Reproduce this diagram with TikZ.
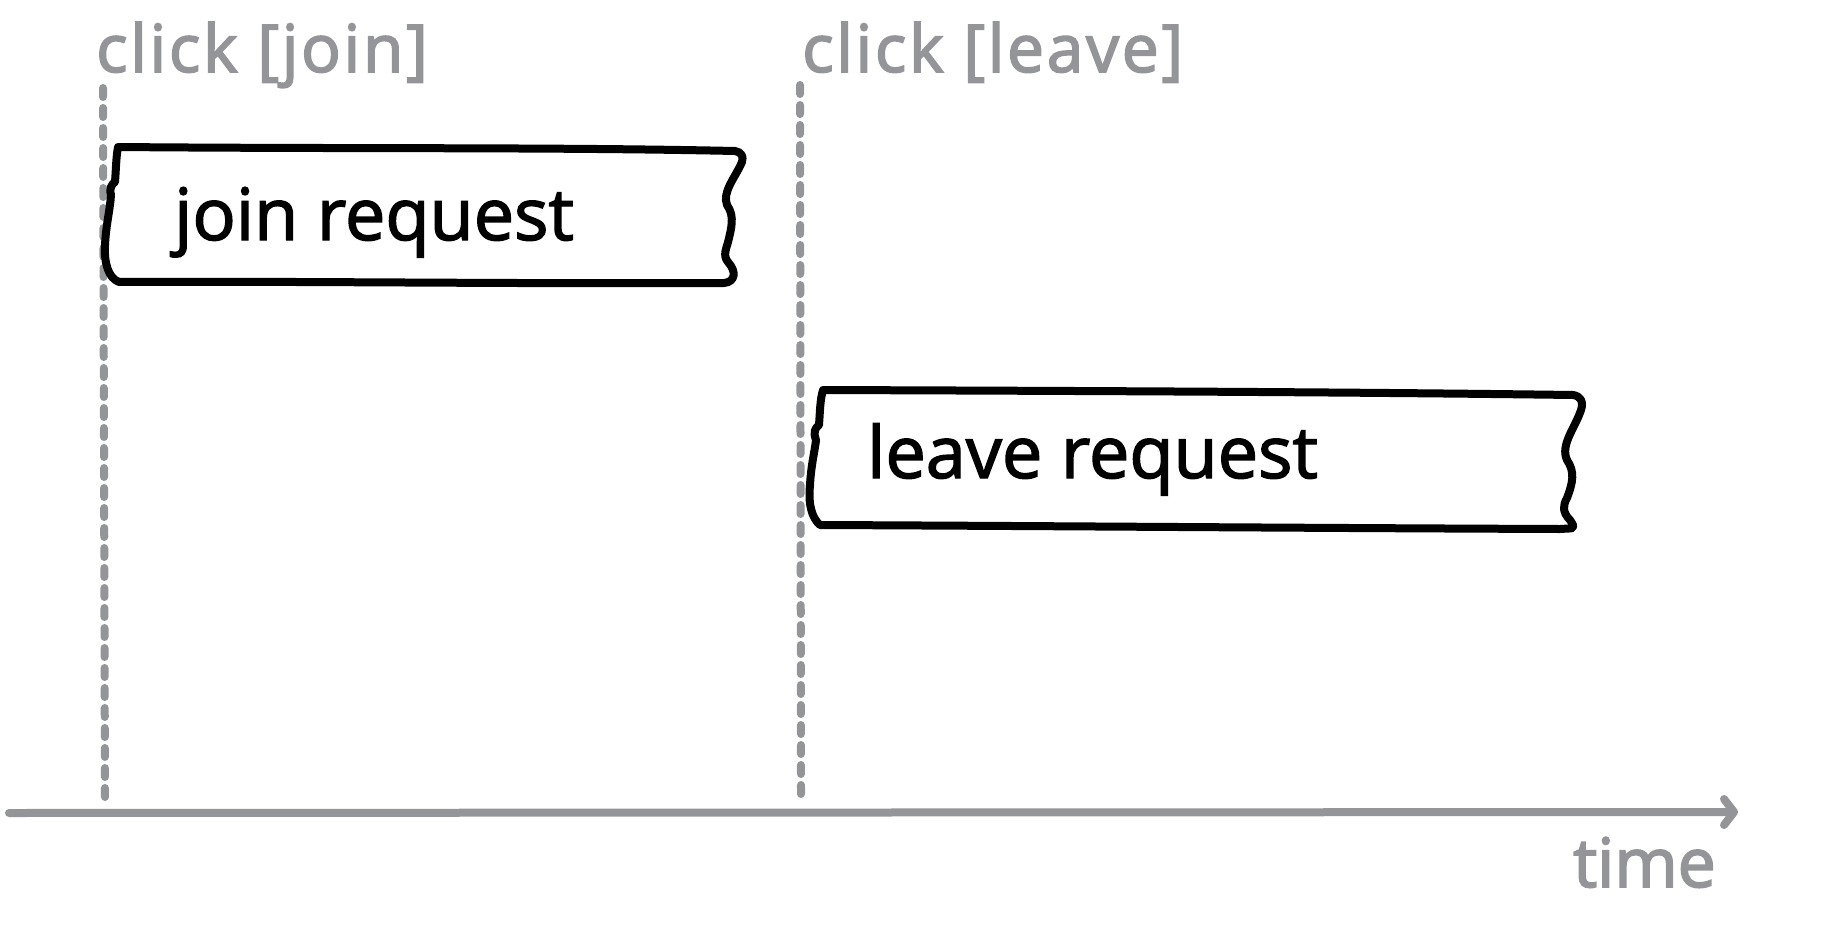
\documentclass[tikz,border=0pt]{standalone}
\usepackage{fontspec}
\setmainfont{Open Sans}
\usetikzlibrary{arrows.meta}
\definecolor{axisgray}{HTML}{939598}
\tikzset{
  label/.style={inner sep=0pt, anchor=base west, text=axisgray, font=\fontsize{66}{74}\selectfont\addfontfeature{LetterSpace=4,FakeBold=2.5}},
  reqtext/.style={inner sep=0pt, anchor=base west, text=black, font=\fontsize{72}{80}\selectfont\addfontfeature{FakeBold=2}},
  guide/.style={draw=axisgray, line width=8pt, dash pattern=on 9pt off 11pt, line cap=round},
  axis/.style={draw=axisgray, line width=8pt, line cap=round, -{Straight Barb[length=10pt,width=26pt,round]}},
  tape/.style={draw=black, line width=8pt, line join=round, fill=white}
}
\begin{document}
\begin{tikzpicture}[x=1pt,y=-1pt]
\useasboundingbox (0,0) rectangle (1843,947);
% guides
\coordinate (g1t) at (103,88);
\coordinate (g1b) at (105,805);
\coordinate (g2t) at (800,85);
\coordinate (g2b) at (801,796);
\draw[guide] (g1t) -- (g1b);
\draw[guide] (g2t) -- (g2b);
% axis
\coordinate (a0) at (9,813);
\coordinate (a1) at (1738,812);
\draw[axis] (a0) -- (a1);
% labels
\node[label] (cj) at (96,72) {click [join]};
\node[label] (cl) at (802,72) {click [leave]};
\node[label, font=\fontsize{68}{76}\selectfont\addfontfeature{FakeBold=2.5}] (time) at (1573,887) {time};
% box 1
\draw[tape] (118,147) .. controls (350,149) and (550,147) .. (735,151)
  .. controls (741,152) and (744,156) .. (742,162)
  .. controls (735,178) and (722,192) .. (727,205)
  .. controls (733,214) and (733,222) .. (729,238)
  .. controls (727,248) and (722,255) .. (728,262)
  .. controls (737,272) and (735,282) .. (724,283)
  .. controls (500,284) and (300,281) .. (119,282)
  .. controls (108,278) and (104,262) .. (105,245)
  .. controls (106,225) and (110,210) .. (111,195)
  .. controls (109,188) and (112,184) .. (115,182)
  .. controls (116,170) and (116,158) .. cycle;
\node[reqtext] (jr) at (174,240) {join request};
% box 2
\draw[tape] (823,390) .. controls (1100,391) and (1350,392) .. (1573,395)
  .. controls (1580,396) and (1584,401) .. (1581,410)
  .. controls (1575,428) and (1560,445) .. (1567,460)
  .. controls (1575,472) and (1573,482) .. (1567,498)
  .. controls (1563,505) and (1562,512) .. (1570,520)
  .. controls (1577,530) and (1573,528) .. (1560,529)
  .. controls (1300,528) and (1050,526) .. (820,525)
  .. controls (812,518) and (808,505) .. (810,485)
  .. controls (811,465) and (815,450) .. (816,440)
  .. controls (813,432) and (815,428) .. (819,425)
  .. controls (820,412) and (820,400) .. cycle;
\node[reqtext] (lr) at (867,478) {leave request};
\end{tikzpicture}
\end{document}
